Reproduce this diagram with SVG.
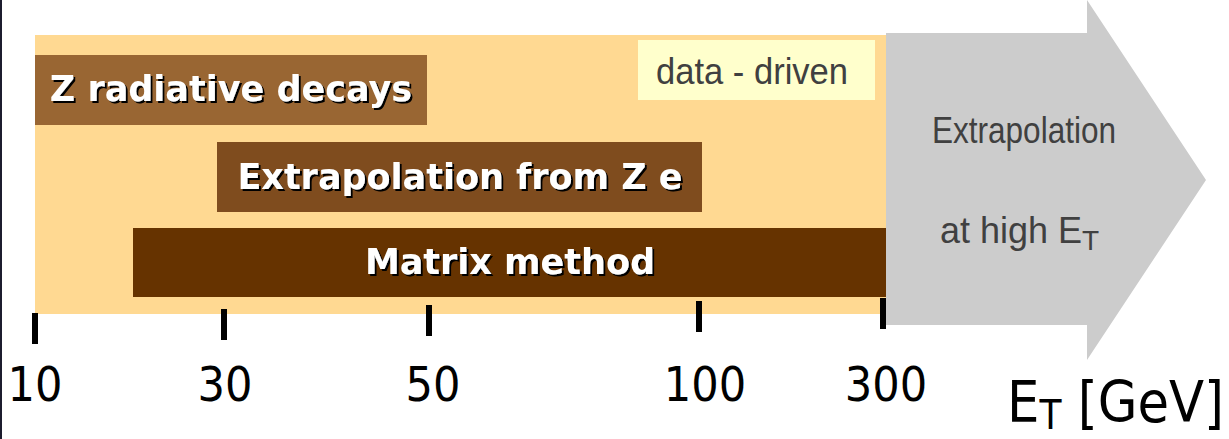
<svg xmlns="http://www.w3.org/2000/svg" width="1229" height="439" viewBox="0 0 1229 439">
  <defs>
    <filter id="shadow" x="-5%" y="-20%" width="110%" height="150%">
      <feDropShadow dx="2" dy="2" stdDeviation="0.6" flood-color="#000" flood-opacity="1"/>
    </filter>
    <style>
      .bar-label { font-family: "DejaVu Sans", sans-serif; font-weight: bold; font-size: 35px; fill: #ffffff; text-anchor: middle; filter: url(#shadow); }
      .note { font-family: "Liberation Sans Narrow", "Liberation Sans", sans-serif; font-size: 36px; fill: #404040; }
      .tick { fill: #000000; }
      .axis-num { font-family: "DejaVu Sans Condensed", "DejaVu Sans", sans-serif; font-stretch: condensed; font-size: 48px; fill: #000000; text-anchor: middle; }
    </style>
  </defs>

  <rect x="0" y="0" width="1229" height="439" fill="#ffffff"/>
  <!-- left frame edge -->
  <rect x="0" y="0" width="2" height="439" fill="#1c1c2e"/>

  <!-- extrapolation arrow -->
  <g id="extrapolation-arrow">
    <polygon points="886,33 1087,33 1087,0 1206,180 1087,360 1087,325 886,325" fill="#cccccc"/>
    <text class="note" x="932" y="143" textLength="184" lengthAdjust="spacingAndGlyphs">Extrapolation</text>
    <text class="note" x="940" y="243">at high E<tspan font-size="28" dy="7">T</tspan></text>
  </g>

  <!-- data-driven region -->
  <g id="data-driven-region">
    <rect x="35" y="35" width="851" height="279" fill="#ffd992"/>
    <rect x="638" y="40" width="237" height="60" fill="#ffffcc"/>
    <text class="note" x="656" y="84" textLength="192" lengthAdjust="spacingAndGlyphs">data - driven</text>
  </g>

  <g id="z-radiative">
    <rect x="35" y="55" width="392" height="70" fill="#996633"/>
    <text class="bar-label" x="231" y="101">Z radiative decays</text>
  </g>

  <g id="extrapolation-from-ze">
    <rect x="217" y="142" width="485" height="70" fill="#7f4c1e"/>
    <text class="bar-label" x="460" y="189">Extrapolation from Z e</text>
  </g>

  <g id="matrix-method">
    <rect x="133" y="228" width="753" height="69" fill="#663300"/>
    <text class="bar-label" x="510" y="274">Matrix method</text>
  </g>

  <!-- axis ticks -->
  <g id="axis">
    <rect class="tick" x="32" y="313" width="6" height="31"/>
    <rect class="tick" x="221" y="309" width="6" height="31"/>
    <rect class="tick" x="426" y="305" width="6" height="31"/>
    <rect class="tick" x="696" y="301" width="6" height="31"/>
    <rect class="tick" x="880" y="298" width="6" height="31"/>
  </g>

  <g id="axis-labels">
    <text class="axis-num" x="35" y="401">10</text>
    <text class="axis-num" x="225" y="401">30</text>
    <text class="axis-num" x="433" y="401">50</text>
    <text class="axis-num" x="705" y="401">100</text>
    <text class="axis-num" x="886" y="401">300</text>
    <text class="axis-num" x="1007" y="422" style="text-anchor:start; font-size:57px">E<tspan font-size="40" dy="7">T</tspan><tspan dy="-7"> [GeV]</tspan></text>
  </g>
</svg>
